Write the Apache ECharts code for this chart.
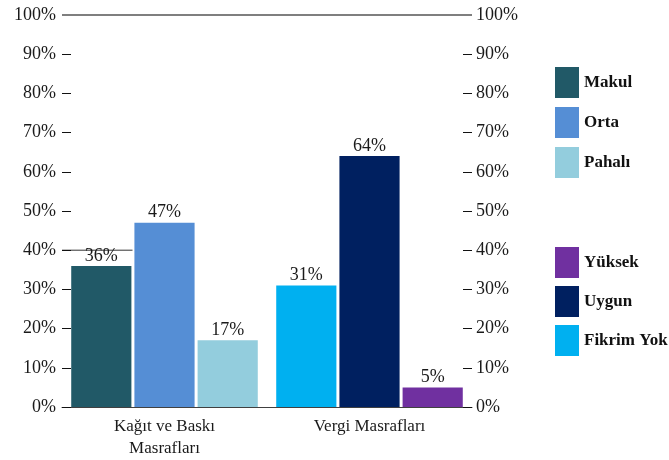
<!DOCTYPE html>
<html>
<head>
<meta charset="utf-8">
<script src="https://cdn.jsdelivr.net/npm/echarts@6/dist/echarts.min.js"></script>
<style>
  html, body { margin: 0; padding: 0; background: #fff; }
  #chart { width: 669px; height: 460px; }
</style>
</head>
<body>
<div id="chart"></div>
<script>
"use strict";
// data
var categories = ['Kağıt ve Baskı\nMasrafları', 'Vergi Masrafları'];
var yTicks = [0, 10, 20, 30, 40, 50, 60, 70, 80, 90, 100];

var makul = [36, '-'];
var orta = [47, '-'];
var pahali = [17, '-'];
var fikrimYok = ['-', 31];
var uygun = ['-', 64];
var yuksek = ['-', 5];

var serif = '"Liberation Serif", "DejaVu Serif", serif';

function bar(name, data, stack, color) {
    return {
        name: name,
        type: 'bar',
        stack: stack,
        data: data,
        barCategoryGap: '9%',
        barGap: '5%',
        itemStyle: { color: color },
        label: {
            show: true,
            position: 'top',
            distance: 1,
            formatter: '{c}%',
            fontFamily: serif,
            fontSize: 18,
            color: '#1a1a1a'
        }
    };
}

var series = [
    bar('Makul', makul, 'a', '#215967'),
    bar('Orta', orta, 'b', '#558ed5'),
    bar('Pahalı', pahali, 'c', '#93cddd'),
    bar('Yüksek', yuksek, 'c', '#7030a0'),
    bar('Uygun', uygun, 'b', '#002060'),
    bar('Fikrim Yok', fikrimYok, 'a', '#00b0f0')
];
series[0].markLine = {
    silent: true,
    symbol: 'none',
    label: { show: false },
    lineStyle: { color: '#7f7f7f', width: 2, type: 'solid' },
    data: [{ yAxis: 100 }]
};

var legendText = { fontFamily: serif, fontSize: 17, fontWeight: 'bold', color: '#111' };

function valueAxis(pos) {
    return {
        type: 'value',
        position: pos,
        min: yTicks[0],
        max: yTicks[yTicks.length - 1],
        interval: 10,
        axisLine: { show: false },
        axisTick: { show: true, inside: true, length: 9, lineStyle: { color: '#111' } },
        splitLine: { show: false },
        axisLabel: {
            margin: pos === 'left' ? 6 : 4,
            formatter: '{value}%',
            fontFamily: serif,
            fontSize: 18,
            color: '#1a1a1a'
        }
    };
}

var chart = echarts.init(document.getElementById('chart'));
var option = {
    animation: false,
    grid: { left: 62, right: 197, top: 15, bottom: 53 },
    legend: [
        {
            orient: 'vertical',
            left: 550,
            top: 62,
            icon: 'rect',
            itemWidth: 24,
            itemHeight: 31,
            itemGap: 9,
            textStyle: legendText,
            selectedMode: false,
            data: ['Makul', 'Orta', 'Pahalı']
        },
        {
            orient: 'vertical',
            left: 550,
            top: 242,
            icon: 'rect',
            itemWidth: 24,
            itemHeight: 31,
            itemGap: 8,
            textStyle: legendText,
            selectedMode: false,
            data: ['Yüksek', 'Uygun', 'Fikrim Yok']
        }
    ],
    xAxis: {
        type: 'category',
        data: categories,
        axisLine: { lineStyle: { color: '#404040', width: 1 } },
        axisTick: { show: false },
        axisLabel: {
            margin: 9,
            fontFamily: serif,
            fontSize: 17,
            lineHeight: 22,
            color: '#1a1a1a'
        }
    },
    yAxis: [valueAxis('left'), valueAxis('right')],
    series: series
};
chart.setOption(option);

// short stray rule at 40% on the left, as in the source picture
var y40 = chart.convertToPixel({ yAxisIndex: 0 }, 40);
var barStart = chart.convertToPixel({ xAxisIndex: 0 }, 0);
chart.setOption({
    graphic: [{
        type: 'line',
        silent: true,
        shape: { x1: 62, y1: y40, x2: barStart - 32, y2: y40 },
        style: { stroke: '#333', lineWidth: 1 }
    }]
});
</script>
</body>
</html>
